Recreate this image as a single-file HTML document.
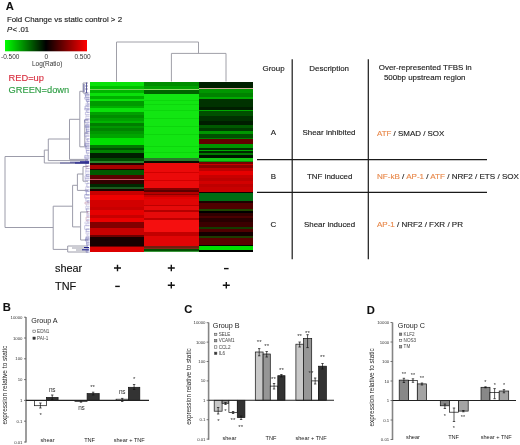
<!DOCTYPE html>
<html><head><meta charset="utf-8"><title>Figure</title>
<style>
html,body{margin:0;padding:0;background:#fff;width:520px;height:445px;overflow:hidden}
svg{display:block;font-family:"Liberation Sans", sans-serif;filter:blur(0.3px)}
</style></head><body>
<svg width="520" height="445" viewBox="0 0 520 445">
<rect width="520" height="445" fill="#fff"/>
<g shape-rendering="crispEdges"><rect x="89.7" y="81.5" width="54.2" height="4.00" fill="#0ae10a"/><rect x="89.7" y="85.5" width="54.2" height="3.00" fill="#00c000"/><rect x="89.7" y="88.5" width="54.2" height="1.00" fill="#78d05a"/><rect x="89.7" y="89.5" width="54.2" height="3.50" fill="#00b400"/><rect x="89.7" y="93.0" width="54.2" height="3.00" fill="#0ae10a"/><rect x="89.7" y="96.0" width="54.2" height="3.00" fill="#00b000"/><rect x="89.7" y="99.0" width="54.2" height="2.00" fill="#0ae10a"/><rect x="89.7" y="101.0" width="54.2" height="5.00" fill="#009a00"/><rect x="89.7" y="106.0" width="54.2" height="2.00" fill="#00b000"/><rect x="89.7" y="108.0" width="54.2" height="4.00" fill="#0ae10a"/><rect x="89.7" y="112.0" width="54.2" height="3.00" fill="#00a000"/><rect x="89.7" y="115.0" width="54.2" height="3.00" fill="#008c00"/><rect x="89.7" y="118.0" width="54.2" height="3.00" fill="#00a000"/><rect x="89.7" y="121.0" width="54.2" height="2.00" fill="#00b400"/><rect x="89.7" y="123.0" width="54.2" height="3.00" fill="#007d00"/><rect x="89.7" y="126.0" width="54.2" height="2.00" fill="#009600"/><rect x="89.7" y="128.0" width="54.2" height="3.00" fill="#008200"/><rect x="89.7" y="131.0" width="54.2" height="3.00" fill="#009600"/><rect x="89.7" y="134.0" width="54.2" height="4.00" fill="#00a500"/><rect x="89.7" y="138.0" width="54.2" height="7.00" fill="#00e000"/><rect x="89.7" y="145.0" width="54.2" height="3.00" fill="#007800"/><rect x="89.7" y="148.0" width="54.2" height="2.00" fill="#005000"/><rect x="89.7" y="150.0" width="54.2" height="3.00" fill="#008200"/><rect x="89.7" y="153.0" width="54.2" height="5.00" fill="#001e00"/><rect x="89.7" y="158.0" width="54.2" height="3.00" fill="#004b00"/><rect x="89.7" y="161.0" width="54.2" height="2.30" fill="#2a822a"/><rect x="89.7" y="163.3" width="54.2" height="1.20" fill="#280000"/><rect x="89.7" y="164.5" width="54.2" height="4.00" fill="#aa0000"/><rect x="89.7" y="168.5" width="54.2" height="1.50" fill="#280000"/><rect x="89.7" y="170.0" width="54.2" height="5.00" fill="#005a00"/><rect x="89.7" y="175.0" width="54.2" height="4.00" fill="#5a0000"/><rect x="89.7" y="179.0" width="54.2" height="1.00" fill="#c85060"/><rect x="89.7" y="180.0" width="54.2" height="4.00" fill="#320000"/><rect x="89.7" y="184.0" width="54.2" height="3.00" fill="#002800"/><rect x="89.7" y="186.5" width="54.2" height="2.00" fill="#1e5a1e"/><rect x="89.7" y="188.5" width="54.2" height="2.50" fill="#1e0000"/><rect x="89.7" y="191.0" width="54.2" height="4.00" fill="#c80000"/><rect x="89.7" y="195.0" width="54.2" height="5.00" fill="#f00000"/><rect x="89.7" y="200.0" width="54.2" height="7.00" fill="#d20000"/><rect x="89.7" y="207.0" width="54.2" height="3.00" fill="#c80000"/><rect x="89.7" y="210.0" width="54.2" height="5.00" fill="#e60000"/><rect x="89.7" y="215.0" width="54.2" height="3.00" fill="#c80000"/><rect x="89.7" y="218.0" width="54.2" height="4.00" fill="#eb0000"/><rect x="89.7" y="222.0" width="54.2" height="6.00" fill="#820000"/><rect x="89.7" y="228.0" width="54.2" height="7.00" fill="#c80000"/><rect x="89.7" y="235.0" width="54.2" height="2.00" fill="#6e0000"/><rect x="89.7" y="237.0" width="54.2" height="9.00" fill="#190000"/><rect x="89.7" y="246.0" width="54.2" height="1.00" fill="#6e0000"/><rect x="89.7" y="247.0" width="54.2" height="5.40" fill="#dc0000"/><rect x="143.9" y="81.5" width="55.0" height="4.50" fill="#008c00"/><rect x="143.9" y="86.0" width="55.0" height="2.50" fill="#00a000"/><rect x="143.9" y="88.5" width="55.0" height="1.00" fill="#8cdc64"/><rect x="143.9" y="89.5" width="55.0" height="4.50" fill="#006400"/><rect x="143.9" y="94.0" width="55.0" height="6.00" fill="#12e612"/><rect x="143.9" y="100.0" width="55.0" height="1.00" fill="#0cd80c"/><rect x="143.9" y="101.0" width="55.0" height="3.00" fill="#12e612"/><rect x="143.9" y="104.0" width="55.0" height="1.00" fill="#0cd80c"/><rect x="143.9" y="105.0" width="55.0" height="5.00" fill="#12e612"/><rect x="143.9" y="110.0" width="55.0" height="1.00" fill="#0cd80c"/><rect x="143.9" y="111.0" width="55.0" height="7.00" fill="#12e612"/><rect x="143.9" y="118.0" width="55.0" height="1.00" fill="#0cd80c"/><rect x="143.9" y="119.0" width="55.0" height="7.00" fill="#12e612"/><rect x="143.9" y="126.0" width="55.0" height="1.00" fill="#0cd80c"/><rect x="143.9" y="127.0" width="55.0" height="7.00" fill="#12e612"/><rect x="143.9" y="134.0" width="55.0" height="1.00" fill="#0cd80c"/><rect x="143.9" y="135.0" width="55.0" height="11.00" fill="#12e612"/><rect x="143.9" y="146.0" width="55.0" height="1.00" fill="#0cd80c"/><rect x="143.9" y="147.0" width="55.0" height="5.00" fill="#12e612"/><rect x="143.9" y="152.0" width="55.0" height="1.00" fill="#0cd80c"/><rect x="143.9" y="153.0" width="55.0" height="5.50" fill="#12e612"/><rect x="143.9" y="158.3" width="55.0" height="2.70" fill="#2a782a"/><rect x="143.9" y="161.0" width="55.0" height="2.30" fill="#0a0a00"/><rect x="143.9" y="163.3" width="55.0" height="8.70" fill="#eb0a0a"/><rect x="143.9" y="172.0" width="55.0" height="1.00" fill="#d20000"/><rect x="143.9" y="173.0" width="55.0" height="7.00" fill="#eb0a0a"/><rect x="143.9" y="180.0" width="55.0" height="1.00" fill="#d20000"/><rect x="143.9" y="181.0" width="55.0" height="7.00" fill="#eb0a0a"/><rect x="143.9" y="187.7" width="55.0" height="2.30" fill="#820000"/><rect x="143.9" y="190.0" width="55.0" height="2.30" fill="#5a0000"/><rect x="143.9" y="192.3" width="55.0" height="1.50" fill="#b40000"/><rect x="143.9" y="193.8" width="55.0" height="1.60" fill="#8c0000"/><rect x="143.9" y="195.4" width="55.0" height="1.60" fill="#c80000"/><rect x="143.9" y="197.0" width="55.0" height="2.00" fill="#e10000"/><rect x="143.9" y="199.0" width="55.0" height="6.00" fill="#e10505"/><rect x="143.9" y="205.0" width="55.0" height="1.00" fill="#be0000"/><rect x="143.9" y="206.0" width="55.0" height="4.00" fill="#e60a0a"/><rect x="143.9" y="210.0" width="55.0" height="1.50" fill="#b40000"/><rect x="143.9" y="211.5" width="55.0" height="6.50" fill="#e60a0a"/><rect x="143.9" y="218.0" width="55.0" height="1.50" fill="#be0000"/><rect x="143.9" y="219.5" width="55.0" height="12.50" fill="#f50f0f"/><rect x="143.9" y="232.0" width="55.0" height="4.00" fill="#c30000"/><rect x="143.9" y="236.0" width="55.0" height="10.00" fill="#e10505"/><rect x="143.9" y="246.0" width="55.0" height="1.50" fill="#6e2010"/><rect x="143.9" y="247.5" width="55.0" height="1.50" fill="#802818"/><rect x="143.9" y="249.0" width="55.0" height="1.50" fill="#005000"/><rect x="143.9" y="250.5" width="55.0" height="1.90" fill="#3c963c"/><rect x="198.95" y="81.5" width="54.2" height="6.80" fill="#002000"/><rect x="198.95" y="88.3" width="54.2" height="1.00" fill="#d2aa98"/><rect x="198.95" y="89.3" width="54.2" height="3.70" fill="#009600"/><rect x="198.95" y="93.0" width="54.2" height="4.00" fill="#008200"/><rect x="198.95" y="97.0" width="54.2" height="2.00" fill="#00aa00"/><rect x="198.95" y="99.0" width="54.2" height="8.00" fill="#003200"/><rect x="198.95" y="107.0" width="54.2" height="3.00" fill="#001e00"/><rect x="198.95" y="110.0" width="54.2" height="1.00" fill="#00aa00"/><rect x="198.95" y="111.0" width="54.2" height="5.00" fill="#005000"/><rect x="198.95" y="116.0" width="54.2" height="5.00" fill="#003200"/><rect x="198.95" y="121.0" width="54.2" height="4.00" fill="#001e00"/><rect x="198.95" y="125.0" width="54.2" height="3.00" fill="#005a00"/><rect x="198.95" y="128.0" width="54.2" height="3.00" fill="#003c00"/><rect x="198.95" y="131.0" width="54.2" height="3.00" fill="#009600"/><rect x="198.95" y="134.0" width="54.2" height="4.00" fill="#005000"/><rect x="198.95" y="138.0" width="54.2" height="1.00" fill="#008200"/><rect x="198.95" y="139.0" width="54.2" height="5.00" fill="#640000"/><rect x="198.95" y="144.0" width="54.2" height="4.00" fill="#009600"/><rect x="198.95" y="148.0" width="54.2" height="2.00" fill="#003200"/><rect x="198.95" y="150.0" width="54.2" height="1.00" fill="#00aa00"/><rect x="198.95" y="151.0" width="54.2" height="2.00" fill="#002800"/><rect x="198.95" y="153.0" width="54.2" height="2.00" fill="#007800"/><rect x="198.95" y="155.0" width="54.2" height="2.50" fill="#001400"/><rect x="198.95" y="157.5" width="54.2" height="3.00" fill="#14c814"/><rect x="198.95" y="160.5" width="54.2" height="1.00" fill="#0a8c0a"/><rect x="198.95" y="161.5" width="54.2" height="2.00" fill="#780000"/><rect x="198.95" y="163.5" width="54.2" height="1.50" fill="#c80000"/><rect x="198.95" y="165.0" width="54.2" height="3.00" fill="#8c0000"/><rect x="198.95" y="168.0" width="54.2" height="3.00" fill="#be0000"/><rect x="198.95" y="171.0" width="54.2" height="4.00" fill="#e60000"/><rect x="198.95" y="175.0" width="54.2" height="3.00" fill="#c80000"/><rect x="198.95" y="178.0" width="54.2" height="3.00" fill="#be0000"/><rect x="198.95" y="181.0" width="54.2" height="3.00" fill="#d20000"/><rect x="198.95" y="184.0" width="54.2" height="3.00" fill="#be0000"/><rect x="198.95" y="187.0" width="54.2" height="5.00" fill="#c80000"/><rect x="198.95" y="192.0" width="54.2" height="1.00" fill="#140000"/><rect x="198.95" y="193.0" width="54.2" height="8.00" fill="#006e14"/><rect x="198.95" y="201.0" width="54.2" height="2.00" fill="#1e0000"/><rect x="198.95" y="203.0" width="54.2" height="6.00" fill="#500000"/><rect x="198.95" y="209.0" width="54.2" height="2.00" fill="#1e4600"/><rect x="198.95" y="211.0" width="54.2" height="2.00" fill="#000000"/><rect x="198.95" y="213.0" width="54.2" height="3.00" fill="#300000"/><rect x="198.95" y="216.0" width="54.2" height="2.00" fill="#4a0000"/><rect x="198.95" y="218.0" width="54.2" height="4.00" fill="#280000"/><rect x="198.95" y="222.0" width="54.2" height="5.00" fill="#3c0000"/><rect x="198.95" y="227.0" width="54.2" height="2.00" fill="#143c00"/><rect x="198.95" y="229.0" width="54.2" height="3.00" fill="#500000"/><rect x="198.95" y="232.0" width="54.2" height="4.00" fill="#140000"/><rect x="198.95" y="236.0" width="54.2" height="2.00" fill="#1e3c00"/><rect x="198.95" y="238.0" width="54.2" height="7.00" fill="#5a0000"/><rect x="198.95" y="245.0" width="54.2" height="1.00" fill="#000000"/><rect x="198.95" y="246.0" width="54.2" height="4.00" fill="#00dc00"/><rect x="198.95" y="250.0" width="54.2" height="2.40" fill="#000000"/></g><g fill="none" stroke="#a0a0a8" stroke-width="1"><path d="M116.5 81.5V42H198.5V53.4"/><path d="M171.4 81.5V53.4H226V81.5"/></g><g fill="none" stroke="#9c9caa" stroke-width="1"><path d="M44.3 156.5H5V227.5H53.2"/><path d="M48.3 150.1H44.3V163H88"/><path d="M69.5 139H48.3V160.6H88"/><path d="M79.8 119.3H69.5V159.4H88"/><path d="M83.1 91.3H79.8V146.8H87"/><path d="M72.6 206.2H53.2V249.4H67.7"/><path d="M77.4 185.3H72.6V226.9H80.6"/><path d="M83 174H77.4V190.4H88"/><path d="M83 166.6V181.2H88M83 166.6H88"/><path d="M80.6 212V240M80.6 212H88M80.6 240H88"/><path d="M84.8 120V146M84.8 120H88M84.8 133H88"/><path d="M67.7 246V252H88M67.7 246H88M72 248H88M76 250H88"/><path d="M83.1 83V93H88M83.1 83H88M85 86H88M85 89H88"/></g><g fill="none" stroke-width="0.6" opacity="0.75"><path d="M85.0 93.0V95.3M85.0 93.0H89.5M85.0 95.3H89.5" stroke="#5a5aa8"/><path d="M85.6 94.5V97.3M85.6 94.5H89.5M85.6 97.3H89.5" stroke="#5a5aa8"/><path d="M84.8 97.2V99.2M84.8 97.2H89.5M84.8 99.2H89.5" stroke="#6a6ab4"/><path d="M85.8 98.5V100.2M85.8 98.5H89.5M85.8 100.2H89.5" stroke="#b4b0d8"/><path d="M86.4 99.6V101.6M86.4 99.6H89.5M86.4 101.6H89.5" stroke="#5a5aa8"/><path d="M87.4 101.3V103.8M87.4 101.3H89.5M87.4 103.8H89.5" stroke="#5a5aa8"/><path d="M85.8 103.4V105.2M85.8 103.4H89.5M85.8 105.2H89.5" stroke="#b4b0d8"/><path d="M86.9 104.5V106.8M86.9 104.5H89.5M86.9 106.8H89.5" stroke="#8a84c4"/><path d="M85.1 106.0V108.9M85.1 106.0H89.5M85.1 108.9H89.5" stroke="#5a5aa8"/><path d="M84.7 108.4V110.0M84.7 108.4H89.5M84.7 110.0H89.5" stroke="#8a84c4"/><path d="M86.8 109.7V112.5M86.8 109.7H89.5M86.8 112.5H89.5" stroke="#6a6ab4"/><path d="M85.4 112.1V114.7M85.4 112.1H89.5M85.4 114.7H89.5" stroke="#8a84c4"/><path d="M86.2 114.4V116.5M86.2 114.4H89.5M86.2 116.5H89.5" stroke="#b4b0d8"/><path d="M85.8 116.1V118.4M85.8 116.1H89.5M85.8 118.4H89.5" stroke="#b4b0d8"/><path d="M85.8 118.4V120.2M85.8 118.4H89.5M85.8 120.2H89.5" stroke="#a8a0d4"/><path d="M84.6 119.6V122.3M84.6 119.6H89.5M84.6 122.3H89.5" stroke="#5a5aa8"/><path d="M87.1 122.1V125.0M87.1 122.1H89.5M87.1 125.0H89.5" stroke="#a8a0d4"/><path d="M86.0 124.2V126.6M86.0 124.2H89.5M86.0 126.6H89.5" stroke="#6a6ab4"/><path d="M85.3 125.7V127.4M85.3 125.7H89.5M85.3 127.4H89.5" stroke="#5a5aa8"/><path d="M86.4 126.8V130.1M86.4 126.8H89.5M86.4 130.1H89.5" stroke="#6a6ab4"/><path d="M86.5 129.1V131.6M86.5 129.1H89.5M86.5 131.6H89.5" stroke="#5a5aa8"/><path d="M86.3 131.5V133.9M86.3 131.5H89.5M86.3 133.9H89.5" stroke="#6a6ab4"/><path d="M84.9 133.0V136.4M84.9 133.0H89.5M84.9 136.4H89.5" stroke="#8a84c4"/><path d="M86.0 135.6V139.4M86.0 135.6H89.5M86.0 139.4H89.5" stroke="#8a84c4"/><path d="M87.2 138.6V141.4M87.2 138.6H89.5M87.2 141.4H89.5" stroke="#6a6ab4"/><path d="M85.7 141.3V143.5M85.7 141.3H89.5M85.7 143.5H89.5" stroke="#a8a0d4"/><path d="M85.2 143.2V145.7M85.2 143.2H89.5M85.2 145.7H89.5" stroke="#5a5aa8"/><path d="M85.2 144.8V146.9M85.2 144.8H89.5M85.2 146.9H89.5" stroke="#6a6ab4"/><path d="M85.3 146.8V148.7M85.3 146.8H89.5M85.3 148.7H89.5" stroke="#8a84c4"/><path d="M86.2 148.3V150.7M86.2 148.3H89.5M86.2 150.7H89.5" stroke="#8a84c4"/><path d="M86.4 150.4V153.2M86.4 150.4H89.5M86.4 153.2H89.5" stroke="#5a5aa8"/><path d="M87.4 152.6V156.3M87.4 152.6H89.5M87.4 156.3H89.5" stroke="#b4b0d8"/><path d="M84.8 155.4V157.9M84.8 155.4H89.5M84.8 157.9H89.5" stroke="#6a6ab4"/><path d="M85.1 156.9V158.6M85.1 156.9H89.5M85.1 158.6H89.5" stroke="#8a84c4"/><path d="M84.8 158.0V161.0M84.8 158.0H89.5M84.8 161.0H89.5" stroke="#b4b0d8"/><path d="M85.6 160.0V161.7M85.6 160.0H89.5M85.6 161.7H89.5" stroke="#5a5aa8"/><path d="M85.6 161.1V163.1M85.6 161.1H89.5M85.6 163.1H89.5" stroke="#a8a0d4"/><path d="M85.9 163.1V166.1M85.9 163.1H89.5M85.9 166.1H89.5" stroke="#5a5aa8"/><path d="M86.0 166.1V168.7M86.0 166.1H89.5M86.0 168.7H89.5" stroke="#b07090"/><path d="M85.9 168.5V171.8M85.9 168.5H89.5M85.9 171.8H89.5" stroke="#8a84c4"/><path d="M85.6 170.8V174.6M85.6 170.8H89.5M85.6 174.6H89.5" stroke="#b4b0d8"/><path d="M86.4 174.3V176.5M86.4 174.3H89.5M86.4 176.5H89.5" stroke="#5a5aa8"/><path d="M85.0 175.8V178.3M85.0 175.8H89.5M85.0 178.3H89.5" stroke="#8a84c4"/><path d="M85.2 178.1V180.4M85.2 178.1H89.5M85.2 180.4H89.5" stroke="#8a84c4"/><path d="M85.2 180.2V183.6M85.2 180.2H89.5M85.2 183.6H89.5" stroke="#b4b0d8"/><path d="M86.9 183.2V187.2M86.9 183.2H89.5M86.9 187.2H89.5" stroke="#6a6ab4"/><path d="M85.8 186.7V190.6M85.8 186.7H89.5M85.8 190.6H89.5" stroke="#a8a0d4"/><path d="M85.2 189.6V191.6M85.2 189.6H89.5M85.2 191.6H89.5" stroke="#8a84c4"/><path d="M86.3 191.2V195.2M86.3 191.2H89.5M86.3 195.2H89.5" stroke="#5a5aa8"/><path d="M84.8 194.6V198.1M84.8 194.6H89.5M84.8 198.1H89.5" stroke="#5a5aa8"/><path d="M85.9 197.8V201.2M85.9 197.8H89.5M85.9 201.2H89.5" stroke="#8a84c4"/><path d="M87.3 200.7V202.4M87.3 200.7H89.5M87.3 202.4H89.5" stroke="#6a6ab4"/><path d="M85.0 202.2V204.0M85.0 202.2H89.5M85.0 204.0H89.5" stroke="#b07090"/><path d="M86.5 203.7V206.3M86.5 203.7H89.5M86.5 206.3H89.5" stroke="#b4b0d8"/><path d="M85.6 206.3V209.5M85.6 206.3H89.5M85.6 209.5H89.5" stroke="#b4b0d8"/><path d="M86.7 208.2V211.7M86.7 208.2H89.5M86.7 211.7H89.5" stroke="#5a5aa8"/><path d="M87.1 211.6V214.2M87.1 211.6H89.5M87.1 214.2H89.5" stroke="#b07090"/><path d="M86.8 213.4V216.2M86.8 213.4H89.5M86.8 216.2H89.5" stroke="#a8a0d4"/><path d="M87.2 215.5V217.3M87.2 215.5H89.5M87.2 217.3H89.5" stroke="#a8a0d4"/><path d="M86.1 217.1V220.6M86.1 217.1H89.5M86.1 220.6H89.5" stroke="#b07090"/><path d="M87.1 219.4V222.2M87.1 219.4H89.5M87.1 222.2H89.5" stroke="#8a84c4"/><path d="M84.9 222.0V223.8M84.9 222.0H89.5M84.9 223.8H89.5" stroke="#b4b0d8"/><path d="M86.1 223.5V225.8M86.1 223.5H89.5M86.1 225.8H89.5" stroke="#b4b0d8"/><path d="M84.7 225.6V229.3M84.7 225.6H89.5M84.7 229.3H89.5" stroke="#8a84c4"/><path d="M86.2 229.0V231.8M86.2 229.0H89.5M86.2 231.8H89.5" stroke="#5a5aa8"/><path d="M86.0 231.3V234.1M86.0 231.3H89.5M86.0 234.1H89.5" stroke="#a8a0d4"/><path d="M87.3 233.6V236.3M87.3 233.6H89.5M87.3 236.3H89.5" stroke="#b4b0d8"/><path d="M86.2 236.2V238.4M86.2 236.2H89.5M86.2 238.4H89.5" stroke="#8a84c4"/><path d="M85.8 237.6V239.4M85.8 237.6H89.5M85.8 239.4H89.5" stroke="#5a5aa8"/><path d="M85.4 239.0V241.0M85.4 239.0H89.5M85.4 241.0H89.5" stroke="#5a5aa8"/><path d="M86.5 240.3V243.6M86.5 240.3H89.5M86.5 243.6H89.5" stroke="#8a84c4"/><path d="M86.7 242.5V245.2M86.7 242.5H89.5M86.7 245.2H89.5" stroke="#5a5aa8"/><path d="M87.0 244.6V248.6M87.0 244.6H89.5M87.0 248.6H89.5" stroke="#8a84c4"/><path d="M85.8 248.6V251.1M85.8 248.6H89.5M85.8 251.1H89.5" stroke="#a8a0d4"/><path d="M86.2 250.8V252.4M86.2 250.8H89.5M86.2 252.4H89.5" stroke="#6a6ab4"/></g><g fill="none" stroke="#3c3c8c" stroke-width="0.9" opacity="0.9"><path d="M60 163H89M70 162.2H89"/><path d="M84 84V92M86.5 82.5V93"/></g><g fill="none" stroke="#1a1a8a" stroke-width="1"><path d="M75 163H89M80 161.8H89M82 249.8H89M84 247.5H89"/></g><g stroke="#1a1a1a" stroke-width="1.2" fill="none"><path d="M292.2 59.3V259.2M368.3 59.3V259.2M257 159.6H487M257 192.4H487"/></g><g stroke="#111" stroke-width="1.4" fill="none"><path d="M114.0 268H121.0M117.5 264.7V271.3"/><path d="M167.8 268H174.8M171.3 264.7V271.3"/><path d="M224.0 268.6H228.60000000000002"/><path d="M115.2 286.4H119.8"/><path d="M167.8 285.3H174.8M171.3 282.0V288.6"/><path d="M222.8 285.3H229.8M226.3 282.0V288.6"/></g><defs><linearGradient id="cb" x1="0" x2="1" y1="0" y2="0"><stop offset="0" stop-color="#00ff00"/><stop offset="0.5" stop-color="#000"/><stop offset="1" stop-color="#ff0000"/></linearGradient></defs><rect x="5" y="40" width="82" height="11.3" fill="url(#cb)"/><text x="5.8" y="9.9" font-size="11.2" fill="#111" stroke="#111" stroke-width="0.1" text-anchor="start" font-weight="bold" >A</text><text x="6.9" y="22.0" font-size="7.9" fill="#222" stroke="#222" stroke-width="0.14" text-anchor="start" font-weight="normal" >Fold Change vs static control &gt; 2</text><text x="6.9" y="31.6" font-size="7.8" fill="#222" stroke="#222" stroke-width="0.14" text-anchor="start" font-weight="normal" ><tspan font-style="italic">P</tspan></text><text x="12.5" y="31.6" font-size="7.8" fill="#222" stroke="#222" stroke-width="0.14" text-anchor="start" font-weight="normal" >&lt;</text><text x="18.3" y="31.6" font-size="7.8" fill="#222" stroke="#222" stroke-width="0.14" text-anchor="start" font-weight="normal" >.01</text><text x="1" y="58.5" font-size="6.5" fill="#333" stroke="#333" stroke-width="0" text-anchor="start" font-weight="normal" >-0.500</text><text x="46.3" y="58.5" font-size="6.5" fill="#333" stroke="#333" stroke-width="0" text-anchor="middle" font-weight="normal" >0</text><text x="74.4" y="58.5" font-size="6.5" fill="#333" stroke="#333" stroke-width="0" text-anchor="start" font-weight="normal" >0.500</text><text x="32" y="65.5" font-size="6.5" fill="#333" stroke="#333" stroke-width="0" text-anchor="start" font-weight="normal" >Log(Ratio)</text><text x="8.5" y="81.3" font-size="9.3" fill="#d83040" stroke="#d83040" stroke-width="0.14" text-anchor="start" font-weight="normal" >RED=up</text><text x="8.5" y="92.8" font-size="9.3" fill="#2e9e44" stroke="#2e9e44" stroke-width="0.14" text-anchor="start" font-weight="normal" >GREEN=down</text><text x="262.5" y="70.5" font-size="7.95" fill="#222" stroke="#222" stroke-width="0.14" text-anchor="start" font-weight="normal" >Group</text><text x="309.3" y="70.6" font-size="7.95" fill="#222" stroke="#222" stroke-width="0.14" text-anchor="start" font-weight="normal" >Description</text><text x="378.8" y="70.4" font-size="7.95" fill="#222" stroke="#222" stroke-width="0.14" text-anchor="start" font-weight="normal" >Over-represented TFBS in</text><text x="383.9" y="79.9" font-size="7.95" fill="#222" stroke="#222" stroke-width="0.14" text-anchor="start" font-weight="normal" >500bp upstream region</text><text x="273.3" y="135.2" font-size="7.95" fill="#222" stroke="#222" stroke-width="0.14" text-anchor="middle" font-weight="normal" >A</text><text x="302.5" y="135.2" font-size="7.95" fill="#222" stroke="#222" stroke-width="0.14" text-anchor="start" font-weight="normal" >Shear inhibited</text><text x="377" y="135.6" font-size="7.95" fill="#222" stroke="#222" stroke-width="0.14" text-anchor="start" font-weight="normal" ><tspan fill="#e8884a" stroke="#e8884a">ATF</tspan> / SMAD / SOX</text><text x="273.3" y="179.0" font-size="7.95" fill="#222" stroke="#222" stroke-width="0.14" text-anchor="middle" font-weight="normal" >B</text><text x="307" y="179.0" font-size="7.95" fill="#222" stroke="#222" stroke-width="0.14" text-anchor="start" font-weight="normal" >TNF induced</text><text x="377" y="179.0" font-size="8.07" fill="#222" stroke="#222" stroke-width="0.14" text-anchor="start" font-weight="normal" ><tspan fill="#e8884a" stroke="#e8884a">NF-kB</tspan> / <tspan fill="#e8884a" stroke="#e8884a">AP-1</tspan> / <tspan fill="#e8884a" stroke="#e8884a">ATF</tspan> / NRF2 / ETS / SOX</text><text x="273.3" y="227.1" font-size="7.95" fill="#222" stroke="#222" stroke-width="0.14" text-anchor="middle" font-weight="normal" >C</text><text x="304" y="227.1" font-size="7.95" fill="#222" stroke="#222" stroke-width="0.14" text-anchor="start" font-weight="normal" >Shear induced</text><text x="377" y="227.2" font-size="8.03" fill="#222" stroke="#222" stroke-width="0.14" text-anchor="start" font-weight="normal" ><tspan fill="#e8884a" stroke="#e8884a">AP-1</tspan> / NRF2 / FXR / PR</text><text x="55" y="272.3" font-size="10.9" fill="#111" stroke="#111" stroke-width="0.14" text-anchor="start" font-weight="normal" >shear</text><text x="55" y="289.6" font-size="10.9" fill="#111" stroke="#111" stroke-width="0.14" text-anchor="start" font-weight="normal" >TNF</text><path d="M26 317V442.5" stroke="#858585" stroke-width="1.6" fill="none"/><path d="M24 317.20H26" stroke="#555" stroke-width="0.8"/><text x="22.5" y="318.7" font-size="4.3" fill="#333" stroke="#333" stroke-width="0" text-anchor="end" font-weight="normal" >10000</text><path d="M24 338.00H26" stroke="#555" stroke-width="0.8"/><text x="22.5" y="339.5" font-size="4.3" fill="#333" stroke="#333" stroke-width="0" text-anchor="end" font-weight="normal" >1000</text><path d="M24 358.80H26" stroke="#555" stroke-width="0.8"/><text x="22.5" y="360.29999999999995" font-size="4.3" fill="#333" stroke="#333" stroke-width="0" text-anchor="end" font-weight="normal" >100</text><path d="M24 379.60H26" stroke="#555" stroke-width="0.8"/><text x="22.5" y="381.09999999999997" font-size="4.3" fill="#333" stroke="#333" stroke-width="0" text-anchor="end" font-weight="normal" >10</text><path d="M24 400.40H26" stroke="#555" stroke-width="0.8"/><text x="22.5" y="401.9" font-size="4.3" fill="#333" stroke="#333" stroke-width="0" text-anchor="end" font-weight="normal" >1</text><path d="M24 421.20H26" stroke="#555" stroke-width="0.8"/><text x="22.5" y="422.7" font-size="4.3" fill="#333" stroke="#333" stroke-width="0" text-anchor="end" font-weight="normal" >0.1</text><path d="M24 442.00H26" stroke="#555" stroke-width="0.8"/><text x="22.5" y="443.5" font-size="4.3" fill="#333" stroke="#333" stroke-width="0" text-anchor="end" font-weight="normal" >0.01</text><rect x="34.4" y="400.4" width="12.00" height="5.30" fill="#ffffff" stroke="#111" stroke-width="0.7"/><path d="M40.40 403V408M39.20 403H41.60M39.20 408H41.60" stroke="#111" stroke-width="0.7" fill="none"/><rect x="46.4" y="397.4" width="11.70" height="3.00" fill="#333333" stroke="#111" stroke-width="0.7"/><path d="M52.25 395V399.5M51.05 395H53.45M51.05 399.5H53.45" stroke="#111" stroke-width="0.7" fill="none"/><rect x="74.9" y="400.4" width="12.20" height="1.00" fill="#ffffff" stroke="#111" stroke-width="0.7"/><path d="M81.00 400.6V402.2M79.80 400.6H82.20M79.80 402.2H82.20" stroke="#111" stroke-width="0.7" fill="none"/><rect x="87.1" y="393.6" width="12.10" height="6.80" fill="#333333" stroke="#111" stroke-width="0.7"/><path d="M93.15 392.2V395M91.95 392.2H94.35M91.95 395H94.35" stroke="#111" stroke-width="0.7" fill="none"/><rect x="116.1" y="399.2" width="12.30" height="1.20" fill="#ffffff" stroke="#111" stroke-width="0.7"/><path d="M122.25 398.4V401.5M121.05 398.4H123.45M121.05 401.5H123.45" stroke="#111" stroke-width="0.7" fill="none"/><rect x="128.4" y="387.3" width="11.40" height="13.10" fill="#333333" stroke="#111" stroke-width="0.7"/><path d="M134.10 384.5V389.5M132.90 384.5H135.30M132.90 389.5H135.30" stroke="#111" stroke-width="0.7" fill="none"/><path d="M26 400.4H149" stroke="#222" stroke-width="1.1"/><rect x="32.9" y="330.10" width="2.4" height="2.4" fill="#ffffff" stroke="#444" stroke-width="0.5"/><text x="37.1" y="332.90000000000003" font-size="4.6" fill="#444" stroke="#444" stroke-width="0" text-anchor="start" font-weight="normal" >EDN1</text><rect x="32.9" y="337.00" width="2.4" height="2.4" fill="#333333" stroke="#444" stroke-width="0.5"/><text x="37.1" y="339.8" font-size="4.6" fill="#444" stroke="#444" stroke-width="0" text-anchor="start" font-weight="normal" >PAI-1</text><text x="31.3" y="322.7" font-size="7.2" fill="#222" stroke="#222" stroke-width="0" text-anchor="start" font-weight="normal" >Group A</text><text x="2.7" y="311.3" font-size="11.2" fill="#111" stroke="#111" stroke-width="0.1" text-anchor="start" font-weight="bold" >B</text><text x="6.7" y="385.1" font-size="6.55" fill="#222" stroke="#222" stroke-width="0" text-anchor="middle" font-weight="normal" transform="rotate(-90 6.7 385.1)">expression relative to static</text><text x="47.5" y="441.5" font-size="5.6" fill="#222" stroke="#222" stroke-width="0" text-anchor="middle" font-weight="normal" >shear</text><text x="89.6" y="441.5" font-size="5.6" fill="#222" stroke="#222" stroke-width="0" text-anchor="middle" font-weight="normal" >TNF</text><text x="129.2" y="441.5" font-size="5.6" fill="#222" stroke="#222" stroke-width="0" text-anchor="middle" font-weight="normal" >shear + TNF</text><text x="52.2" y="391.7" font-size="6.4" fill="#333" stroke="#333" stroke-width="0" text-anchor="middle" font-weight="normal" letter-spacing="-0.3">ns</text><text x="40.7" y="417" font-size="6" fill="#333" stroke="#333" stroke-width="0" text-anchor="middle" font-weight="normal" >*</text><text x="92.6" y="389" font-size="6" fill="#333" stroke="#333" stroke-width="0" text-anchor="middle" font-weight="normal" >**</text><text x="81.3" y="410.0" font-size="6.4" fill="#333" stroke="#333" stroke-width="0" text-anchor="middle" font-weight="normal" letter-spacing="-0.3">ns</text><text x="122" y="394.0" font-size="6.4" fill="#333" stroke="#333" stroke-width="0" text-anchor="middle" font-weight="normal" letter-spacing="-0.3">ns</text><text x="134.1" y="381" font-size="6" fill="#333" stroke="#333" stroke-width="0" text-anchor="middle" font-weight="normal" >*</text><path d="M208.6 322.5V439.8" stroke="#858585" stroke-width="1.6" fill="none"/><path d="M206.6 322.70H208.6" stroke="#555" stroke-width="0.8"/><text x="205.5" y="324.20000000000005" font-size="4.3" fill="#333" stroke="#333" stroke-width="0" text-anchor="end" font-weight="normal" >10000</text><path d="M206.6 342.10H208.6" stroke="#555" stroke-width="0.8"/><text x="205.5" y="343.6" font-size="4.3" fill="#333" stroke="#333" stroke-width="0" text-anchor="end" font-weight="normal" >1000</text><path d="M206.6 361.50H208.6" stroke="#555" stroke-width="0.8"/><text x="205.5" y="363.0" font-size="4.3" fill="#333" stroke="#333" stroke-width="0" text-anchor="end" font-weight="normal" >100</text><path d="M206.6 380.90H208.6" stroke="#555" stroke-width="0.8"/><text x="205.5" y="382.40000000000003" font-size="4.3" fill="#333" stroke="#333" stroke-width="0" text-anchor="end" font-weight="normal" >10</text><path d="M206.6 400.30H208.6" stroke="#555" stroke-width="0.8"/><text x="205.5" y="401.8" font-size="4.3" fill="#333" stroke="#333" stroke-width="0" text-anchor="end" font-weight="normal" >1</text><path d="M206.6 419.70H208.6" stroke="#555" stroke-width="0.8"/><text x="205.5" y="421.2" font-size="4.3" fill="#333" stroke="#333" stroke-width="0" text-anchor="end" font-weight="normal" >0.1</text><path d="M206.6 439.10H208.6" stroke="#555" stroke-width="0.8"/><text x="205.5" y="440.6" font-size="4.3" fill="#333" stroke="#333" stroke-width="0" text-anchor="end" font-weight="normal" >0.01</text><rect x="214.2" y="400.3" width="7.90" height="10.90" fill="#c8c8c8" stroke="#111" stroke-width="0.7"/><path d="M218.15 407.5V414M216.95 407.5H219.35M216.95 414H219.35" stroke="#111" stroke-width="0.7" fill="none"/><rect x="222.1" y="400.3" width="6.80" height="3.00" fill="#969696" stroke="#111" stroke-width="0.7"/><path d="M225.50 402.5V404.5M224.30 402.5H226.70M224.30 404.5H226.70" stroke="#111" stroke-width="0.7" fill="none"/><rect x="228.9" y="400.3" width="8.40" height="12.10" fill="#ffffff" stroke="#111" stroke-width="0.7"/><path d="M233.10 411.5V413.5M231.90 411.5H234.30M231.90 413.5H234.30" stroke="#111" stroke-width="0.7" fill="none"/><rect x="237.3" y="400.3" width="7.60" height="17.30" fill="#323232" stroke="#111" stroke-width="0.7"/><path d="M241.10 416V419.5M239.90 416H242.30M239.90 419.5H242.30" stroke="#111" stroke-width="0.7" fill="none"/><rect x="255.3" y="352" width="7.80" height="48.30" fill="#c8c8c8" stroke="#111" stroke-width="0.7"/><path d="M259.20 348.6V355.8M258.00 348.6H260.40M258.00 355.8H260.40" stroke="#111" stroke-width="0.7" fill="none"/><rect x="263.1" y="354" width="7.20" height="46.30" fill="#969696" stroke="#111" stroke-width="0.7"/><path d="M266.70 351.5V357M265.50 351.5H267.90M265.50 357H267.90" stroke="#111" stroke-width="0.7" fill="none"/><rect x="270.3" y="386.1" width="7.50" height="14.20" fill="#ffffff" stroke="#111" stroke-width="0.7"/><path d="M274.05 383.5V389M272.85 383.5H275.25M272.85 389H275.25" stroke="#111" stroke-width="0.7" fill="none"/><rect x="277.8" y="375.7" width="7.20" height="24.60" fill="#323232" stroke="#111" stroke-width="0.7"/><path d="M281.40 374.5V377M280.20 374.5H282.60M280.20 377H282.60" stroke="#111" stroke-width="0.7" fill="none"/><rect x="295.9" y="344.2" width="7.50" height="56.10" fill="#c8c8c8" stroke="#111" stroke-width="0.7"/><path d="M299.65 342V347M298.45 342H300.85M298.45 347H300.85" stroke="#111" stroke-width="0.7" fill="none"/><rect x="303.4" y="338.5" width="8.30" height="61.80" fill="#969696" stroke="#111" stroke-width="0.7"/><path d="M307.55 334.7V347.6M306.35 334.7H308.75M306.35 347.6H308.75" stroke="#111" stroke-width="0.7" fill="none"/><rect x="311.7" y="380.9" width="6.90" height="19.40" fill="#ffffff" stroke="#111" stroke-width="0.7"/><path d="M315.15 378V384M313.95 378H316.35M313.95 384H316.35" stroke="#111" stroke-width="0.7" fill="none"/><rect x="318.6" y="366.2" width="7.80" height="34.10" fill="#323232" stroke="#111" stroke-width="0.7"/><path d="M322.50 363.5V369M321.30 363.5H323.70M321.30 369H323.70" stroke="#111" stroke-width="0.7" fill="none"/><path d="M208.6 400.3H334" stroke="#222" stroke-width="1.1"/><rect x="214.5" y="333.20" width="2.4" height="2.4" fill="#c8c8c8" stroke="#444" stroke-width="0.5"/><text x="218.7" y="336.0" font-size="4.6" fill="#444" stroke="#444" stroke-width="0" text-anchor="start" font-weight="normal" >SELE</text><rect x="214.5" y="339.50" width="2.4" height="2.4" fill="#969696" stroke="#444" stroke-width="0.5"/><text x="218.7" y="342.3" font-size="4.6" fill="#444" stroke="#444" stroke-width="0" text-anchor="start" font-weight="normal" >VCAM1</text><rect x="214.5" y="345.80" width="2.4" height="2.4" fill="#ffffff" stroke="#444" stroke-width="0.5"/><text x="218.7" y="348.6" font-size="4.6" fill="#444" stroke="#444" stroke-width="0" text-anchor="start" font-weight="normal" >CCL2</text><rect x="214.5" y="352.10" width="2.4" height="2.4" fill="#323232" stroke="#444" stroke-width="0.5"/><text x="218.7" y="354.9" font-size="4.6" fill="#444" stroke="#444" stroke-width="0" text-anchor="start" font-weight="normal" >IL6</text><text x="212.8" y="327.8" font-size="7.2" fill="#222" stroke="#222" stroke-width="0" text-anchor="start" font-weight="normal" >Group B</text><text x="184.2" y="313.4" font-size="11.2" fill="#111" stroke="#111" stroke-width="0.1" text-anchor="start" font-weight="bold" >C</text><text x="190.5" y="386.5" font-size="6.35" fill="#222" stroke="#222" stroke-width="0" text-anchor="middle" font-weight="normal" transform="rotate(-90 190.5 386.5)">expression relative to static</text><text x="229.4" y="440" font-size="5.6" fill="#222" stroke="#222" stroke-width="0" text-anchor="middle" font-weight="normal" >shear</text><text x="271" y="440" font-size="5.6" fill="#222" stroke="#222" stroke-width="0" text-anchor="middle" font-weight="normal" >TNF</text><text x="311" y="440" font-size="5.6" fill="#222" stroke="#222" stroke-width="0" text-anchor="middle" font-weight="normal" >shear + TNF</text><text x="218.4" y="422.9" font-size="6.2" fill="#333" stroke="#333" stroke-width="0" text-anchor="middle" font-weight="normal" >*</text><text x="225.5" y="413.4" font-size="6.2" fill="#333" stroke="#333" stroke-width="0" text-anchor="middle" font-weight="normal" >*</text><text x="233" y="422.4" font-size="6.2" fill="#333" stroke="#333" stroke-width="0" text-anchor="middle" font-weight="normal" >**</text><text x="240.7" y="428.9" font-size="6.2" fill="#333" stroke="#333" stroke-width="0" text-anchor="middle" font-weight="normal" >**</text><text x="259.2" y="344.3" font-size="6.2" fill="#333" stroke="#333" stroke-width="0" text-anchor="middle" font-weight="normal" >**</text><text x="266.7" y="348.1" font-size="6.2" fill="#333" stroke="#333" stroke-width="0" text-anchor="middle" font-weight="normal" >**</text><text x="273.5" y="381.2" font-size="6.2" fill="#333" stroke="#333" stroke-width="0" text-anchor="middle" font-weight="normal" >**</text><text x="281.4" y="371.6" font-size="6.2" fill="#333" stroke="#333" stroke-width="0" text-anchor="middle" font-weight="normal" >**</text><text x="299.6" y="338.1" font-size="6.2" fill="#333" stroke="#333" stroke-width="0" text-anchor="middle" font-weight="normal" >**</text><text x="307.5" y="334.7" font-size="6.2" fill="#333" stroke="#333" stroke-width="0" text-anchor="middle" font-weight="normal" >**</text><text x="311" y="374.7" font-size="6.2" fill="#333" stroke="#333" stroke-width="0" text-anchor="middle" font-weight="normal" >**</text><text x="322.5" y="359.2" font-size="6.2" fill="#333" stroke="#333" stroke-width="0" text-anchor="middle" font-weight="normal" >**</text><path d="M392.5 322.5V440" stroke="#858585" stroke-width="1.6" fill="none"/><path d="M390.5 322.50H392.5" stroke="#555" stroke-width="0.8"/><text x="389.2" y="324.0" font-size="4.3" fill="#333" stroke="#333" stroke-width="0" text-anchor="end" font-weight="normal" >10000</text><path d="M390.5 342.00H392.5" stroke="#555" stroke-width="0.8"/><text x="389.2" y="343.5" font-size="4.3" fill="#333" stroke="#333" stroke-width="0" text-anchor="end" font-weight="normal" >1000</text><path d="M390.5 361.50H392.5" stroke="#555" stroke-width="0.8"/><text x="389.2" y="363.0" font-size="4.3" fill="#333" stroke="#333" stroke-width="0" text-anchor="end" font-weight="normal" >100</text><path d="M390.5 381.00H392.5" stroke="#555" stroke-width="0.8"/><text x="389.2" y="382.5" font-size="4.3" fill="#333" stroke="#333" stroke-width="0" text-anchor="end" font-weight="normal" >10</text><path d="M390.5 400.50H392.5" stroke="#555" stroke-width="0.8"/><text x="389.2" y="402.0" font-size="4.3" fill="#333" stroke="#333" stroke-width="0" text-anchor="end" font-weight="normal" >1</text><path d="M390.5 420.00H392.5" stroke="#555" stroke-width="0.8"/><text x="389.2" y="421.5" font-size="4.3" fill="#333" stroke="#333" stroke-width="0" text-anchor="end" font-weight="normal" >0.1</text><path d="M390.5 439.50H392.5" stroke="#555" stroke-width="0.8"/><text x="389.2" y="441.0" font-size="4.3" fill="#333" stroke="#333" stroke-width="0" text-anchor="end" font-weight="normal" >0.01</text><rect x="399.2" y="380.1" width="9.40" height="20.40" fill="#888888" stroke="#111" stroke-width="0.7"/><path d="M403.90 378.3V382.5M402.70 378.3H405.10M402.70 382.5H405.10" stroke="#111" stroke-width="0.7" fill="none"/><rect x="408.6" y="380.5" width="8.70" height="20.00" fill="#ffffff" stroke="#111" stroke-width="0.7"/><path d="M412.95 378.8V382.3M411.75 378.8H414.15M411.75 382.3H414.15" stroke="#111" stroke-width="0.7" fill="none"/><rect x="417.3" y="383.9" width="9.30" height="16.60" fill="#a4a4a4" stroke="#111" stroke-width="0.7"/><path d="M421.95 383V385M420.75 383H423.15M420.75 385H423.15" stroke="#111" stroke-width="0.7" fill="none"/><rect x="440.3" y="400.5" width="9.20" height="5.30" fill="#888888" stroke="#111" stroke-width="0.7"/><path d="M444.90 404V408.5M443.70 404H446.10M443.70 408.5H446.10" stroke="#111" stroke-width="0.7" fill="none"/><rect x="449.5" y="400.5" width="9.00" height="11.70" fill="#ffffff" stroke="#111" stroke-width="0.7"/><path d="M454.00 408V421.5M452.80 408H455.20M452.80 421.5H455.20" stroke="#111" stroke-width="0.7" fill="none"/><rect x="458.5" y="400.5" width="9.70" height="10.60" fill="#a4a4a4" stroke="#111" stroke-width="0.7"/><path d="M463.35 410.5V411.8M462.15 410.5H464.55M462.15 411.8H464.55" stroke="#111" stroke-width="0.7" fill="none"/><rect x="481" y="387.3" width="9.00" height="13.20" fill="#888888" stroke="#111" stroke-width="0.7"/><path d="M485.50 386.8V387.8M484.30 386.8H486.70M484.30 387.8H486.70" stroke="#111" stroke-width="0.7" fill="none"/><rect x="490" y="392.4" width="9.20" height="8.10" fill="#ffffff" stroke="#111" stroke-width="0.7"/><path d="M494.60 388.6V398.7M493.40 388.6H495.80M493.40 398.7H495.80" stroke="#111" stroke-width="0.7" fill="none"/><rect x="499.2" y="391" width="9.50" height="9.50" fill="#a4a4a4" stroke="#111" stroke-width="0.7"/><path d="M503.95 389.6V392.8M502.75 389.6H505.15M502.75 392.8H505.15" stroke="#111" stroke-width="0.7" fill="none"/><path d="M392.5 400.5H516" stroke="#222" stroke-width="1.1"/><rect x="399.4" y="333.00" width="2.4" height="2.4" fill="#888888" stroke="#444" stroke-width="0.5"/><text x="403.59999999999997" y="335.8" font-size="4.6" fill="#444" stroke="#444" stroke-width="0" text-anchor="start" font-weight="normal" >KLF2</text><rect x="399.4" y="339.30" width="2.4" height="2.4" fill="#ffffff" stroke="#444" stroke-width="0.5"/><text x="403.59999999999997" y="342.1" font-size="4.6" fill="#444" stroke="#444" stroke-width="0" text-anchor="start" font-weight="normal" >NOS3</text><rect x="399.4" y="345.60" width="2.4" height="2.4" fill="#a4a4a4" stroke="#444" stroke-width="0.5"/><text x="403.59999999999997" y="348.40000000000003" font-size="4.6" fill="#444" stroke="#444" stroke-width="0" text-anchor="start" font-weight="normal" >TM</text><text x="397.8" y="328.0" font-size="7.2" fill="#222" stroke="#222" stroke-width="0" text-anchor="start" font-weight="normal" >Group C</text><text x="366.7" y="314.4" font-size="11.2" fill="#111" stroke="#111" stroke-width="0.1" text-anchor="start" font-weight="bold" >D</text><text x="374.2" y="387.4" font-size="6.5" fill="#222" stroke="#222" stroke-width="0" text-anchor="middle" font-weight="normal" transform="rotate(-90 374.2 387.4)">expression relative to static</text><text x="412.9" y="439.3" font-size="5.6" fill="#222" stroke="#222" stroke-width="0" text-anchor="middle" font-weight="normal" >shear</text><text x="453.6" y="439.3" font-size="5.6" fill="#222" stroke="#222" stroke-width="0" text-anchor="middle" font-weight="normal" >TNF</text><text x="496.2" y="439.3" font-size="5.6" fill="#222" stroke="#222" stroke-width="0" text-anchor="middle" font-weight="normal" >shear + TNF</text><text x="404" y="375.8" font-size="5.5" fill="#333" stroke="#333" stroke-width="0" text-anchor="middle" font-weight="normal" >**</text><text x="413" y="377.0" font-size="5.5" fill="#333" stroke="#333" stroke-width="0" text-anchor="middle" font-weight="normal" >**</text><text x="422" y="380.3" font-size="5.5" fill="#333" stroke="#333" stroke-width="0" text-anchor="middle" font-weight="normal" >**</text><text x="444.8" y="417.6" font-size="5.5" fill="#333" stroke="#333" stroke-width="0" text-anchor="middle" font-weight="normal" >*</text><text x="453.7" y="429.6" font-size="5.5" fill="#333" stroke="#333" stroke-width="0" text-anchor="middle" font-weight="normal" >*</text><text x="462.9" y="419.4" font-size="5.5" fill="#333" stroke="#333" stroke-width="0" text-anchor="middle" font-weight="normal" >**</text><text x="485.4" y="384.2" font-size="5.5" fill="#333" stroke="#333" stroke-width="0" text-anchor="middle" font-weight="normal" >*</text><text x="494.8" y="386.7" font-size="5.5" fill="#333" stroke="#333" stroke-width="0" text-anchor="middle" font-weight="normal" >*</text><text x="504" y="387.1" font-size="5.5" fill="#333" stroke="#333" stroke-width="0" text-anchor="middle" font-weight="normal" >*</text>
</svg>
</body></html>
